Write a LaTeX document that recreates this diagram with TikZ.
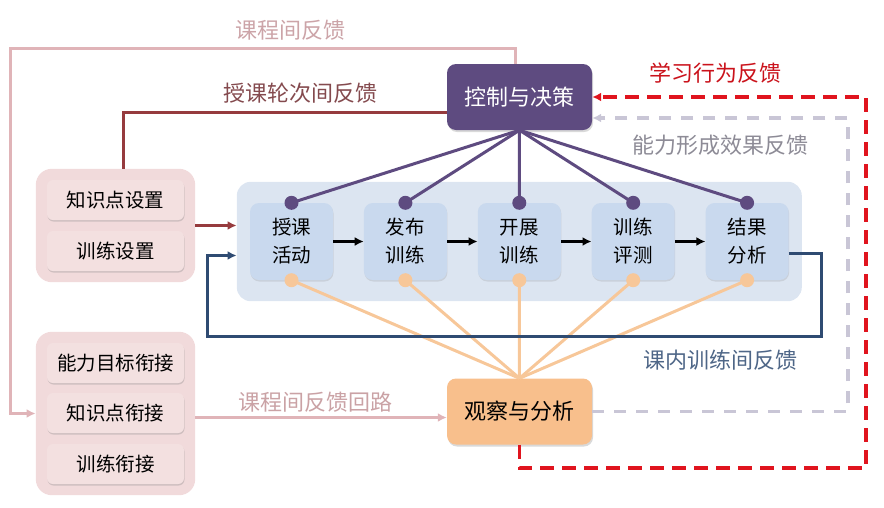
\documentclass[tikz,border=0pt]{standalone}
\usepackage{fontspec}
\usepackage{xcolor}
\usepackage{tikz}
\usetikzlibrary{positioning,arrows.meta,fit,backgrounds,shadows}
\newfontfamily\cjk{Noto Sans CJK SC}

\definecolor{ctrlpurple}{HTML}{5E4B80}
\definecolor{obsorange}{HTML}{F8BF8C}
\definecolor{dotorange}{HTML}{F7C799}
\definecolor{grppink}{HTML}{F1DADB}
\definecolor{itempink}{HTML}{F3E0E0}
\definecolor{panelblue}{HTML}{DCE5F1}
\definecolor{stepblue}{HTML}{C9D9EE}
\definecolor{loopblue}{HTML}{2F4B72}
\definecolor{lessonred}{HTML}{963B3E}
\definecolor{lessontext}{HTML}{844A4E}
\definecolor{coursepink}{HTML}{E0B4B8}
\definecolor{behavred}{HTML}{E0141E}
\definecolor{effgray}{HTML}{C9C6D6}

\begin{document}
\begin{tikzpicture}[
  x=1pt,y=-1pt,
  font=\cjk\fontsize{19.5}{28}\selectfont,
  item/.style={draw=none,rounded corners=6pt,fill=itempink,minimum width=137pt,
               minimum height=40pt,inner sep=2pt,
               drop shadow={opacity=0.3,shadow xshift=0.5pt,shadow yshift=-1.5pt}},
  stepbox/.style={rounded corners=9pt,fill=stepblue,align=center,minimum width=83pt,
               minimum height=77pt,inner sep=2pt,
               drop shadow={opacity=0.2,shadow xshift=0.5pt,shadow yshift=-1.5pt}},
  hub/.style={rounded corners=9pt,align=center,minimum width=145pt,minimum height=66pt,
              font=\cjk\fontsize{22}{26}\selectfont,
              drop shadow={opacity=0.3,shadow xshift=1pt,shadow yshift=-2pt}},
  pdot/.style={circle,fill=ctrlpurple,inner sep=0pt,minimum size=14pt},
  odot/.style={circle,fill=dotorange,inner sep=0pt,minimum size=14pt},
  lbl/.style={font=\cjk\fontsize{22}{26}\selectfont},
  ar/.style={-{Latex[length=9pt,width=9pt]},line width=3pt}
]
\useasboundingbox (0,0) rectangle (884,507);
% hubs
\node[hub,fill=ctrlpurple,text=white] (ctrl) at (519.5,97) {控制与决策};
\node[hub,fill=obsorange] (obs) at (519.5,411.5) {观察与分析};
% training chain
\node[stepbox] (s1) at (291.5,241.5) {授课\\活动};
\node[stepbox,right=30.5pt of s1] (s2) {发布\\训练};
\node[stepbox,right=30.5pt of s2] (s3) {开展\\训练};
\node[stepbox,right=30.5pt of s3] (s4) {训练\\评测};
\node[stepbox,right=30.5pt of s4] (s5) {结果\\分析};
\begin{scope}[on background layer]
\node[fill=panelblue,rounded corners=14pt,inner xsep=13pt,inner ysep=21pt,
      fit=(s1)(s5)] (panel) {};
\end{scope}
% left groups
\node[item] (k1) at (115.5,200) {知识点设置};
\node[item] (k2) at (115.5,251) {训练设置};
\node[item] (c1) at (115.5,363) {能力目标衔接};
\node[item] (c2) at (115.5,413) {知识点衔接};
\node[item] (c3) at (115.5,464) {训练衔接};
\begin{scope}[on background layer]
\node[fill=grppink,rounded corners=16pt,inner xsep=11pt,inner ysep=11pt,
      fit=(k1)(k2)] (grp1) {};
\node[fill=grppink,rounded corners=16pt,inner xsep=11pt,inner ysep=11pt,
      fit=(c1)(c3)] (grp2) {};
\end{scope}
% dots and spokes
\foreach \i in {1,...,5}{
  \draw[ctrlpurple,line width=3pt] (s\i.north) -- (ctrl.south);
  \draw[dotorange,line width=3pt] (s\i.south) -- (obs.north);
  \node[pdot] (p\i) at (s\i.north) {};
  \node[odot] (o\i) at (s\i.south) {};
}
\draw[ar] (s1) -- (s2);
\draw[ar] (s2) -- (s3);
\draw[ar] (s3) -- (s4);
\draw[ar] (s4) -- (s5);
% feedback loops
\coordinate (tl) at (10,48);
\draw[coursepink,line width=3pt,-{Latex[length=9pt,width=9pt]}]
  ([xshift=-4pt]ctrl.north) |- (tl) |- (grp2.west);
\draw[lessonred,line width=3pt] ([yshift=-15pt]ctrl.west) -| ([xshift=8pt]grp1.north);
\draw[lessonred,line width=3pt,-{Latex[length=9pt,width=9pt]}]
  (grp1.east) -- (grp1.east -| panel.west);
\coordinate (br) at (821,336);
\draw[loopblue,line width=3pt,-{Latex[length=9pt,width=9pt]}]
  ([yshift=-12pt]s5.east) -| (br) -| (207,300) |- ([yshift=-14pt]panel.west);
\draw[coursepink,line width=3pt,-{Latex[length=9pt,width=9pt]}]
  ([yshift=-4pt]grp2.east) -- ([yshift=-4pt]grp2.east -| obs.west);
\coordinate (gc) at (848,118);
\draw[effgray,line width=3.5pt,dash pattern=on 12pt off 10pt,-{Latex[length=9pt,width=9pt]}]
  (obs.east) -| (gc) -- ([yshift=-21pt]ctrl.east);
\coordinate (rc) at (866,468);
\draw[behavred,line width=3.5pt,dash pattern=on 14pt off 8pt,-{Latex[length=9pt,width=9pt]}]
  (obs.south) |- (rc) |- (ctrl.east);
% labels
\node[lbl,text=coursepink!85!black!60!coursepink] (t1) at (290,30) {课程间反馈};
\node[lbl,text=lessontext] (t2) at (300,93) {授课轮次间反馈};
\node[lbl,text=behavred!90!black] (t3) at (715,73) {学习行为反馈};
\node[lbl,text=effgray!70!black] (t4) at (720,145) {能力形成效果反馈};
\node[lbl,text=loopblue!85!white] (t5) at (720,360) {课内训练间反馈};
\node[lbl,text=coursepink!90!black] (t6) at (315,402) {课程间反馈回路};
\end{tikzpicture}
\end{document}
